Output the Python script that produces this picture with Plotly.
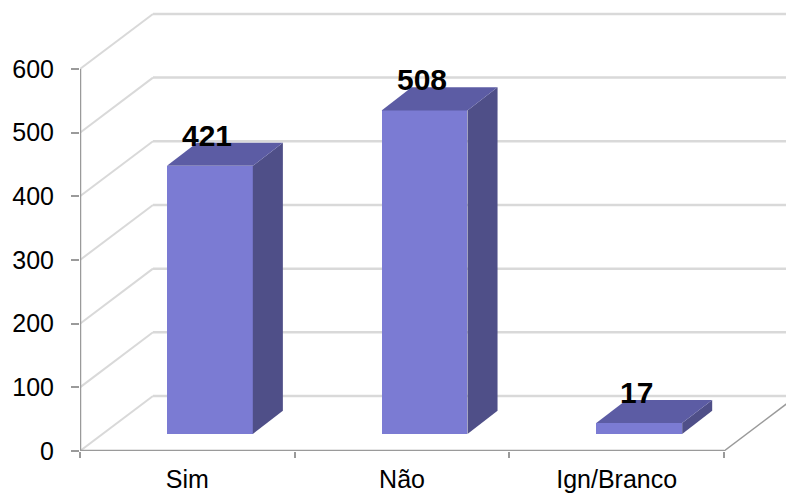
import plotly.graph_objects as go

categories = ["Sim", "Não", "Ign/Branco"]
values = [421, 508, 17]
y_ticks = [0, 100, 200, 300, 400, 500, 600]

# 3D-look geometry (in axis units)
WALL_DX, WALL_DY = 0.34, 86.4      # depth of the back wall
FRONT_DX, FRONT_DY = 0.105, 26.8   # bar front face offset into depth
BAR_DX, BAR_DY = 0.14, 36.3        # bar depth
BAR_W = 0.4
X_MIN, X_MAX = -0.5, 2.826
Y_MAX = 692.6

FRONT_C = "#7b7bd3"
TOP_C = "#5c5ca4"
SIDE_C = "#4f4f88"
GRID_C = "#d9d9d9"
AXIS_C = "#9a9a9a"
FONT = "Liberation Sans, Arial, sans-serif"

fig = go.Figure()

def seg(x0, y0, x1, y1, color, width):
    fig.add_shape(type="line", xref="x", yref="y", x0=x0, y0=y0, x1=x1, y1=y1,
                  line=dict(color=color, width=width), layer="below")

# walls / gridlines
for t in y_ticks:
    seg(X_MIN, t, X_MIN + WALL_DX, t + WALL_DY, "#d9d9d9", 2)
    seg(X_MIN + WALL_DX, t + WALL_DY, X_MAX, t + WALL_DY, GRID_C, 2.5)
# floor right edge
seg(X_MIN + 3, 0, X_MIN + 3 + WALL_DX, WALL_DY, AXIS_C, 1.5)
# axis lines
seg(X_MIN, 0, X_MIN, y_ticks[-1], AXIS_C, 2.5)
seg(X_MIN, 0, X_MIN + 3, 0, AXIS_C, 2.5)

# bars: front faces
xc = [i + FRONT_DX for i in range(len(values))]
fig.add_trace(go.Bar(x=xc, y=values, base=FRONT_DY, width=BAR_W,
                     marker=dict(color=FRONT_C, line=dict(width=0)),
                     hoverinfo="skip", showlegend=False))

# side and top faces
for x, v in zip(xc, values):
    xl, xr = x - BAR_W / 2, x + BAR_W / 2
    b, top = FRONT_DY, FRONT_DY + v
    fig.add_trace(go.Scatter(
        x=[xr, xr + BAR_DX, xr + BAR_DX, xr, xr],
        y=[b, b + BAR_DY, top + BAR_DY, top, b],
        fill="toself", fillcolor=SIDE_C, mode="lines",
        line=dict(width=0, color=SIDE_C), hoverinfo="skip", showlegend=False))
    fig.add_trace(go.Scatter(
        x=[xl, xr, xr + BAR_DX, xl + BAR_DX, xl],
        y=[top, top, top + BAR_DY, top + BAR_DY, top],
        fill="toself", fillcolor=TOP_C, mode="lines",
        line=dict(width=0, color=TOP_C), hoverinfo="skip", showlegend=False))

# value labels
for i, v in enumerate(values):
    fig.add_annotation(x=i + 0.093, y=FRONT_DY + v + BAR_DY, text=f"<b>{v}</b>",
                       showarrow=False, yanchor="bottom", yshift=-11,
                       font=dict(family=FONT, size=30, color="#000"))

# page body has an 8px margin; size the figure so the plot area lands where the reference has it
fig.update_layout(
    width=786, height=485,
    margin=dict(l=72, r=0, t=2, b=42),
    paper_bgcolor="white", plot_bgcolor="white",
    bargap=0,
    xaxis=dict(range=[X_MIN, X_MAX], tickmode="array", tickvals=[0, 1, 2],
               ticktext=categories, ticks="", showgrid=False, zeroline=False,
               showline=False, automargin=False, ticklabelstandoff=11,
               tickfont=dict(family=FONT, size=25, color="#000"),
               minor=dict(tickmode="array", tickvals=[-0.5, 0.5, 1.5, 2.5],
                          ticks="outside", ticklen=6, tickwidth=2, tickcolor=AXIS_C,
                          showgrid=False)),
    yaxis=dict(range=[0, Y_MAX], tickmode="array", tickvals=y_ticks,
               ticks="outside", ticklen=8, tickwidth=2, tickcolor=AXIS_C,
               showgrid=False, zeroline=False, showline=False, automargin=False,
               ticklabelstandoff=12,
               tickfont=dict(family=FONT, size=25, color="#000")),
)

fig.write_html("out.html")
